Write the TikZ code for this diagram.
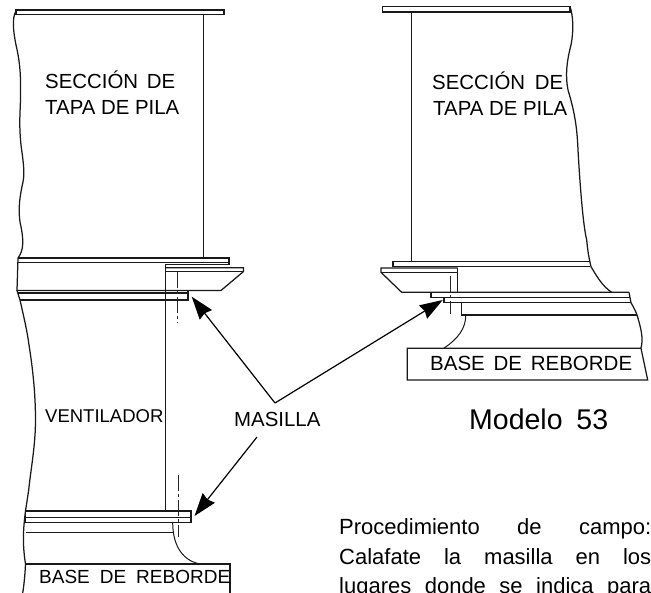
\documentclass[tikz,border=0pt]{standalone}
\usepackage{fontspec}
\setmainfont{Liberation Sans}
\usetikzlibrary{arrows.meta}
\tikzset{
  part/.style={line width=1.25pt,black!90,line join=miter},
  thin part/.style={line width=1pt,black!90},
  centerline/.style={line width=0.9pt,black!85,dash pattern=on 16pt off 3pt on 3pt off 3pt},
  pointer/.style={line width=1.2pt,black,-{Stealth[length=23pt,width=15.5pt,inset=2pt]}},
  lab/.style={anchor=base west,inner sep=0pt,text=black,font=\fontsize{20.4}{22}\selectfont},
  labnarrow/.style={lab,font=\fontsize{18.5}{22}\selectfont},
  labbase/.style={lab,font=\fontsize{20.5}{22}\selectfont},
  labbasesmall/.style={lab,font=\fontsize{19}{22}\selectfont},
  labbig/.style={lab,font=\fontsize{28.5}{30}\selectfont},
  body/.style={lab,font=\fontsize{22}{24}\selectfont}
}
\newcommand{\fitw}[2]{\makebox[#1pt][s]{#2}}
\begin{document}
\begin{tikzpicture}[x=1pt,y=-1pt]
\clip (0,0) rectangle (651,593);
\fill[white] (0,0) rectangle (651,593);

% ---- left assembly
\draw[part] (16,10) rectangle (224,14.3);
\draw[part] (203.5,14.3) -- (203.5,258);
\draw[part] (16,11) .. controls (12,18) and (13,30) .. (16,45)
   .. controls (20,62) and (21,75) .. (20.5,100)
   .. controls (20,115) and (19,125) .. (21,145)
   .. controls (23,160) and (25,172) .. (23,182)
   .. controls (20,195) and (18,208) .. (20,222)
   .. controls (24,240) and (24,250) .. (18,258);
\draw[part] (18,258) -- (229,258) -- (229,264.5) -- (165,264.5);
\draw[part] (18,262.7) -- (229,262.7);
\draw[part] (18,258) -- (17,290.5) -- (221,290.5) -- (243.5,271.5) -- (243.5,267.7) -- (165,267.7);
\draw[part] (165,271.5) -- (243.5,271.5);
\draw[part] (165.2,264.5) -- (165.2,511);
\draw[part] (18,293) -- (188,293);
\draw[part] (20,300) -- (188,300) -- (188,290.5);
\draw[part] (17,290.5) -- (20,300) .. controls (24,318) and (27,330) .. (29,345)
   .. controls (33,370) and (35.5,395) .. (35.5,420)
   .. controls (35.5,445) and (31,468) .. (28.7,490)
   -- (25.5,511);
\draw[centerline] (177,272) -- (177,323);
\draw[centerline] (178.7,475) -- (178.7,537);
\draw[part] (25.5,511) rectangle (191,522.5);
\draw[thin part] (25.5,517.3) -- (191,517.3);
\draw[part] (25.5,532.7) -- (172.5,532.7);
\draw[part] (25.5,511) .. controls (23,530) and (22.5,545) .. (25.5,564) .. controls (25,575) and (24,585) .. (22.7,593);
\draw[thin part] (172.7,522.5) .. controls (172.7,542) and (180,560) .. (200,564);
\draw[part] (25.5,564) -- (230,564) -- (230,593);

% ---- right assembly
\draw[part] (382.7,6.7) rectangle (570,12);
\draw[part] (411.3,12) -- (411.3,261.7);
\draw[part] (570,6.7) .. controls (573,15) and (574,30) .. (571,45)
   .. controls (567,60) and (565,75) .. (568,90)
   .. controls (574,110) and (577,125) .. (578,150)
   .. controls (580,185) and (583,225) .. (586.7,240)
   .. controls (588,255) and (590,262) .. (591,266.7)
   .. controls (596,275) and (602,286) .. (611.7,292.3);
\draw[part] (393,266.7) -- (393,261.7) -- (590,261.7);
\draw[part] (393,266.7) -- (590,266.7);
\draw[part] (457.5,268) -- (381,268) -- (381,272.3) -- (401.7,292.3) -- (629,292.3);
\draw[part] (381,272.3) -- (457.5,272.3);
\draw[part] (457.5,268) -- (457.5,292.3);
\draw[part] (431,292.3) -- (431,297.5) -- (630,297.5);
\draw[part] (631,302.7) -- (444,302.7) -- (444,297.5);
\draw[part] (461.7,303) -- (461.7,315) -- (637,315);
\draw[part] (629,292.3) -- (631,302.7) .. controls (634,308) and (636,312) .. (637,315)
   .. controls (640,325) and (644,338) .. (641,348);
\draw[centerline] (450,276) -- (450,314);
\draw[thin part] (465.7,315) .. controls (466,328) and (458,339) .. (444,348);
\draw[part] (407.3,348.3) -- (641,348.3) -- (647.7,380) -- (407.3,380) -- cycle;

% ---- labels
\node[lab] (secL) at (45,88.3) {\fitw{130}{SECCIÓN\hfill DE}};
\node[lab] (tapaL) at (45,115) {TAPA DE PILA};
\node[lab] (secR) at (432,90) {\fitw{131}{SECCIÓN\hfill DE}};
\node[lab] (tapaR) at (433,116) {TAPA DE PILA};
\node[labnarrow] (vent) at (45,423) {VENTILADOR};
\node[lab] (masilla) at (234,427) {MASILLA};
\node[labbig] (modelo) at (469,429.3) {\fitw{139}{Modelo\hfill 53}};
\node[labbase] (baseR) at (430,370.7) {\fitw{202}{BASE\hfill DE\hfill REBORDE}};
\node[labbasesmall] (baseL) at (39,583) {\fitw{191}{BASE\hfill DE\hfill REBORDE}};
\node[body] (p1) at (339,534) {\fitw{312}{Procedimiento\hfill de\hfill campo:}};
\node[body] (p2) at (339,564.5) {\fitw{312}{Calafate\hfill la\hfill masilla\hfill en\hfill los}};
\node[body] (p3) at (339,593) {\fitw{312}{lugares\hfill donde\hfill se\hfill indica\hfill para}};

% ---- leaders
\coordinate (join) at (275,403);
\coordinate (tipA) at (191.7,296.7);
\coordinate (tipB) at (442.7,300);
\coordinate (tipC) at (194.5,516);
\coordinate (startC) at (257,437);
\draw[pointer] (join) -- (tipA);
\draw[pointer] (join) -- (tipB);
\draw[pointer] (startC) -- (tipC);
\end{tikzpicture}
\end{document}
